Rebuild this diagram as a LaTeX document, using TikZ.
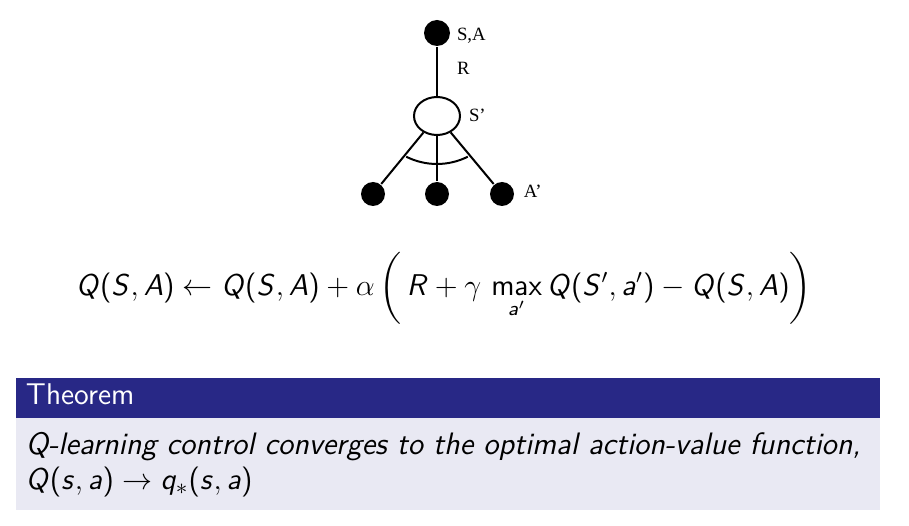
\documentclass[12pt,tikz,border=0pt]{standalone}
\usepackage{amsmath}
\usepackage[no-math]{fontspec}
\usetikzlibrary{shapes.geometric}

\newfontfamily\treefont{Liberation Serif}

% Математика: літери рубленим шрифтом
\DeclareSymbolFont{sfletters}{OT1}{cmss}{m}{sl}
\SetSymbolFont{operators}{normal}{OT1}{cmss}{m}{n}
\newcommand\sfletter[1]{\DeclareMathSymbol{#1}{\mathalpha}{sfletters}{`#1}}
\sfletter{Q}\sfletter{S}\sfletter{A}\sfletter{R}
\sfletter{a}\sfletter{s}\sfletter{q}

\definecolor{blockhead}{RGB}{40,40,134}
\definecolor{blockbody}{RGB}{233,233,243}

\begin{document}
\begin{tikzpicture}[
    x=0.4pt, y=-0.4pt,
    line width=0.8pt,
    dot/.style={circle, fill=black, inner sep=0pt},
    state/.style={ellipse, draw, fill=white, inner sep=0pt,
                  minimum width=18.4pt, minimum height=15.2pt},
    lbl/.style={anchor=base west, inner sep=0pt, font=\treefont\fontsize{7.5}{9}\selectfont},
    bodytext/.style={anchor=base west, inner sep=0pt, font=\sffamily\itshape\fontsize{12.4}{15}\selectfont}
]
  \useasboundingbox (0,0) rectangle (909,526);

  % Дерево резервного копіювання
  \node[dot, minimum size=10.4pt] (root) at (437,33) {};
  \node[state] (open) at (437,116) {};
  \draw (root) -- (open);

  \def\ylf{194}
  \foreach \xx/\nm in {373/leafl, 437/leafm, 502/leafr} {
    \node[dot, minimum size=9.6pt] (\nm) at (\xx,\ylf) {};
    \draw (open) -- (\nm);
  }

  % Дуга max
  \coordinate (arcc) at (437,95.4);
  \draw ([shift={(63.3:68.6)}]arcc) arc[start angle=63.3, end angle=116.7, radius=68.6];

  % Підписи
  \node[lbl] (lsa) at (456,41) {S,A};
  \node[lbl] (lr) at (456,75) {R};
  \node[lbl] (ls) at (468,122) {S’};
  \node[lbl] (la) at (523,198) {A’};

  % Формула
  \node[anchor=base, inner sep=0pt] (eq) at (444,296)
    {$\displaystyle Q(S,A) \leftarrow Q(S,A) + \alpha\, \biggl(\, R + \gamma\, \max_{a'} Q(S',a') - Q(S,A) \biggr)$};

  % Блок теореми
  \fill[blockhead] (16,378) rectangle (880,418);
  \fill[blockbody] (16,418) rectangle (880,510);
  \node[anchor=base west, inner sep=0pt, text=white, font=\sffamily] (thm) at (25,405) {Theorem};
  \node[bodytext] (line1) at (25,455) {Q-learning control converges to the optimal action-value function,};
  \node[bodytext] (line2) at (25,490) {$Q(s,a) \rightarrow q_*(s,a)$};

\end{tikzpicture}
\end{document}
